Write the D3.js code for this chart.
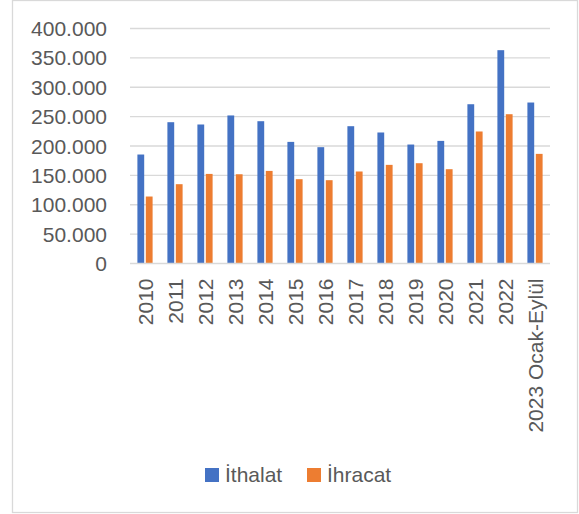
<!DOCTYPE html>
<meta charset="utf-8">
<script src="https://d3js.org/d3.v7.min.js"></script>
<style>
  body { margin: 0; background: #fff; }
  text { font-family: "Liberation Sans", Arial, sans-serif; fill: #595959; }
</style>
<div id="chart"></div>
<script>

var categories = ["2010", "2011", "2012", "2013", "2014", "2015", "2016", "2017",
                  "2018", "2019", "2020", "2021", "2022", "2023 Ocak-Eylül"];
var ithalat = [185500, 240500, 236600, 252000, 242200, 207000, 198000, 233700,
               223000, 202500, 208700, 271100, 363100, 274000];
var ihracat = [114000, 135000, 152500, 151900, 157600, 143500, 141800, 156600,
               167900, 170700, 160500, 224700, 254100, 186600];
var seriesNames = ["İthalat", "İhracat"];
var colors = ["#4472C4", "#ED7D31"];
var yTicks = [0, 50000, 100000, 150000, 200000, 250000, 300000, 350000, 400000];

var W = 579, H = 514;
var margin = {top: 28.5, right: 29, bottom: 250.5, left: 130},
    width = W - margin.left - margin.right,
    height = H - margin.top - margin.bottom;

var svg = d3.select("#chart")
  .append("svg")
    .attr("width", W)
    .attr("height", H);

// outer border
svg.append("rect")
    .attr("x", 12.5).attr("y", 0.5)
    .attr("width", 565).attr("height", 512)
    .attr("fill", "none")
    .attr("stroke", "#d9d9d9")
    .attr("stroke-width", 1.3);

var g = svg.append("g")
    .attr("transform", "translate(" + margin.left + "," + margin.top + ")");

var x = d3.scaleBand()
    .domain(categories)
    .range([0, width])
    .paddingInner(0.5)
    .paddingOuter(0.25);

var y = d3.scaleLinear()
    .domain([0, 400000])
    .range([height, 0]);

var fmt = function(v) { return d3.format(",")(v).replace(/,/g, "."); };

// gridlines
g.append("g")
  .selectAll("line")
  .data(yTicks.slice(1))
  .enter()
  .append("line")
    .attr("x1", 0).attr("x2", width)
    .attr("y1", function(d) { return y(d); })
    .attr("y2", function(d) { return y(d); })
    .attr("stroke", "#d9d9d9")
    .attr("stroke-width", 1.3);

// y labels
g.append("g")
  .selectAll("text")
  .data(yTicks)
  .enter()
  .append("text")
    .attr("x", -23)
    .attr("y", function(d) { return y(d); })
    .attr("dy", "0.36em")
    .attr("text-anchor", "end")
    .style("font-size", "21px")
    .text(fmt);

var step = width / categories.length;
var barW = 6.8, gap = 1.6;
var series = [ithalat, ihracat];

series.forEach(function(vals, si) {
  g.append("g")
    .selectAll("rect")
    .data(vals)
    .enter()
    .append("rect")
      .attr("x", function(d, i) {
        var c = x(categories[i]) + x.bandwidth() / 2;
        return si === 0 ? c - gap / 2 - barW : c + gap / 2;
      })
      .attr("y", function(d) { return y(d); })
      .attr("width", barW)
      .attr("height", function(d) { return height - y(d); })
      .attr("fill", colors[si]);
});

// baseline
g.append("line")
    .attr("x1", 0).attr("x2", width)
    .attr("y1", height).attr("y2", height)
    .attr("stroke", "#d9d9d9")
    .attr("stroke-width", 1.3);

// x labels rotated
g.append("g")
  .selectAll("text")
  .data(categories)
  .enter()
  .append("text")
    .attr("transform", function(d) {
      var cx = x(d) + x.bandwidth() / 2;
      return "translate(" + cx + "," + (height + 15) + ") rotate(-90)";
    })
    .attr("dy", "0.36em")
    .attr("text-anchor", "end")
    .style("font-size", "21px")
    .text(function(d) { return d; });

// legend
var legend = svg.append("g");
var legX = [205, 307];
seriesNames.forEach(function(name, i) {
  legend.append("rect")
    .attr("x", legX[i]).attr("y", 468)
    .attr("width", 14).attr("height", 14)
    .attr("fill", colors[i]);
  legend.append("text")
    .attr("x", legX[i] + 20).attr("y", 482)
    .style("font-size", "21px")
    .text(name);
});

</script>
